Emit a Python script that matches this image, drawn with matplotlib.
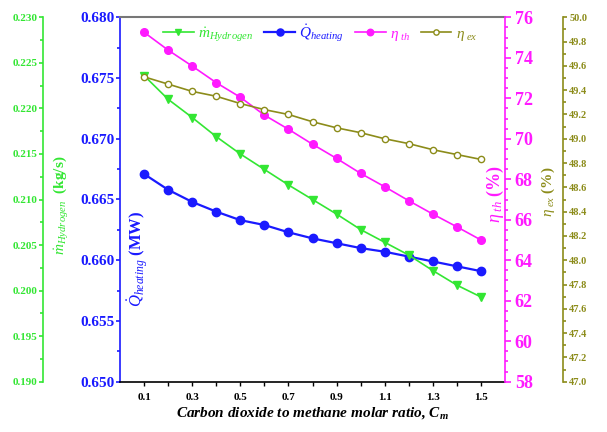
import matplotlib
matplotlib.use("Agg")
import matplotlib.pyplot as plt
from matplotlib.ticker import MultipleLocator, FixedLocator, FormatStrFormatter

plt.rcParams['font.family'] = ['Liberation Serif', 'DejaVu Serif']
plt.rcParams['mathtext.fontset'] = 'custom'
plt.rcParams['mathtext.rm'] = 'Liberation Serif'
plt.rcParams['mathtext.it'] = 'Liberation Serif:italic'
plt.rcParams['mathtext.bf'] = 'Liberation Serif:bold:italic'

# ---- data ----
cm_ratio = [0.1, 0.2, 0.3, 0.4, 0.5, 0.6, 0.7, 0.8, 0.9, 1.0, 1.1, 1.2, 1.3, 1.4, 1.5]
m_hydrogen = [0.2236, 0.2210, 0.2190, 0.2169, 0.2150, 0.2133, 0.2116, 0.2100,
              0.2084, 0.2067, 0.2053, 0.2039, 0.2022, 0.2006, 0.1993]
q_heating = [0.6671, 0.6658, 0.6648, 0.6640, 0.6633, 0.6629, 0.6623, 0.6618,
             0.6614, 0.6610, 0.6607, 0.6603, 0.6599, 0.6595, 0.6591]
eta_th = [75.26, 74.38, 73.59, 72.77, 72.05, 71.17, 70.47, 69.73,
          69.03, 68.29, 67.63, 66.94, 66.28, 65.65, 65.00]
eta_ex = [49.51, 49.45, 49.39, 49.35, 49.29, 49.24, 49.20, 49.14,
          49.09, 49.05, 49.00, 48.96, 48.91, 48.87, 48.83]
x_ticklabels = ['0.1', '0.3', '0.5', '0.7', '0.9', '1.1', '1.3', '1.5']

GREEN = '#33e633'
BLUE = '#1a1aff'
MAG = '#ff1aff'
OLIVE = '#8c8c1a'

fig = plt.figure(figsize=(6.07, 4.32), dpi=100)
ax = fig.add_axes([120/607, 1-381.7/432, 385/607, 364.4/432])

# blue (host)
lq, = ax.plot(cm_ratio, q_heating, '-o', color=BLUE, lw=1.6, ms=6, label=r'$\dot{Q}_{heating}$')
ax.set_xlim(0, 1.6)
ax.set_ylim(0.650, 0.680)
ax.yaxis.set_major_locator(MultipleLocator(0.005))
ax.yaxis.set_minor_locator(MultipleLocator(0.0025))
ax.yaxis.set_major_formatter(FormatStrFormatter('%.3f'))
ax.xaxis.set_major_locator(FixedLocator([0.1, 0.3, 0.5, 0.7, 0.9, 1.1, 1.3, 1.5]))
ax.xaxis.set_minor_locator(FixedLocator([0.2, 0.4, 0.6, 0.8, 1.0, 1.2, 1.4]))
ax.set_xticklabels(x_ticklabels)
ax.tick_params(axis='y', which='both', colors=BLUE, length=3, width=1.2, pad=1, labelsize=11)
ax.tick_params(axis='y', which='minor', length=2)
ax.tick_params(axis='x', which='both', colors='black', length=3, width=1, pad=5, labelsize=8)
for t in ax.get_yticklabels() + ax.get_xticklabels():
    t.set_fontweight('bold')
ax.spines['left'].set_color(BLUE)
ax.spines['left'].set_linewidth(1.2)
ax.spines['top'].set_color('#777777')
ax.spines['top'].set_linewidth(1.5)
ax.spines['bottom'].set_linewidth(1.2)
ax.spines['right'].set_visible(False)
ax.set_ylabel(r'$\dot{Q}_{heating}$ (MW)', color=BLUE, fontsize=12, fontweight='bold')
ax.yaxis.label.set_va('center')
ax.yaxis.set_label_coords(0.047, 0.338)
ax.set_xlabel(r'Carbon dioxide to methane molar ratio, $\mathbf{C_m}$', fontsize=11,
              fontweight='bold', fontstyle='italic')
ax.xaxis.label.set_va('center')
ax.xaxis.set_label_coords(0.501, -0.086)

# green (outer left)
axg = ax.twinx()
axg.spines['left'].set_position(('axes', -0.2))
axg.spines['left'].set_visible(True)
axg.spines['left'].set_color(GREEN)
axg.spines['left'].set_linewidth(1.2)
for s in ['right', 'top', 'bottom']:
    axg.spines[s].set_visible(False)
axg.yaxis.set_ticks_position('left')
axg.yaxis.set_label_position('left')
lm, = axg.plot(cm_ratio, m_hydrogen, '-v', color=GREEN, lw=1.2, ms=5.5, label=r'$\dot{m}_{Hydrogen}$')
axg.set_ylim(0.190, 0.230)
axg.yaxis.set_major_locator(MultipleLocator(0.005))
axg.yaxis.set_minor_locator(MultipleLocator(0.0025))
axg.yaxis.set_major_formatter(FormatStrFormatter('%.3f'))
axg.tick_params(axis='y', which='both', colors=GREEN, length=3, width=1.2, pad=1, labelsize=8)
axg.tick_params(axis='y', which='minor', length=2)
for t in axg.get_yticklabels():
    t.set_fontweight('bold')
axg.set_ylabel(r'$\dot{m}_{Hydrogen}$  (kg/s)', color=GREEN, fontsize=11, fontweight='bold')
axg.yaxis.label.set_va('center')
axg.yaxis.set_label_coords(-0.151, 0.485)

# magenta (inner right)
axm = ax.twinx()
for s in ['left', 'top', 'bottom']:
    axm.spines[s].set_visible(False)
axm.spines['right'].set_color(MAG)
axm.spines['right'].set_linewidth(1.2)
le_th, = axm.plot(cm_ratio, eta_th, '-o', color=MAG, lw=1.2, ms=5.5, label=r'$\eta_{\ th}$')
axm.set_ylim(58, 76)
axm.yaxis.set_major_locator(MultipleLocator(2))
axm.yaxis.set_minor_locator(MultipleLocator(0.5))
axm.tick_params(axis='y', which='both', colors=MAG, length=4, width=1.2, pad=3, labelsize=13)
axm.tick_params(axis='y', which='minor', length=2.5)
for t in axm.get_yticklabels():
    t.set_fontweight('bold')
axm.set_ylabel(r'$\eta_{\ th}$ (%)', color=MAG, fontsize=13, fontweight='bold')
axm.yaxis.label.set_va('center')
axm.yaxis.label.set_rotation(90)
axm.yaxis.set_label_coords(0.974, 0.515)

# olive (outer right)
axo = ax.twinx()
axo.spines['right'].set_position(('axes', 1.1506))
for s in ['left', 'top', 'bottom']:
    axo.spines[s].set_visible(False)
axo.spines['right'].set_color(OLIVE)
axo.spines['right'].set_linewidth(1.2)
le_ex, = axo.plot(cm_ratio, eta_ex, '-o', color=OLIVE, lw=1.2, ms=4.5,
                  markerfacecolor='white', markeredgecolor=OLIVE, label=r'$\eta_{\ ex}$')
axo.set_ylim(47.0, 50.0)
axo.yaxis.set_major_locator(MultipleLocator(0.2))
axo.yaxis.set_minor_locator(MultipleLocator(0.1))
axo.yaxis.set_major_formatter(FormatStrFormatter('%.1f'))
axo.tick_params(axis='y', which='both', colors=OLIVE, length=3, width=1.2, pad=1.5, labelsize=7.5)
axo.tick_params(axis='y', which='minor', length=2)
for t in axo.get_yticklabels():
    t.set_fontweight('bold')
axo.set_ylabel(r'$\eta_{\ ex}$ (%)', color=OLIVE, fontsize=11, fontweight='bold')
axo.yaxis.label.set_va('center')
axo.yaxis.label.set_rotation(90)
axo.yaxis.set_label_coords(1.112, 0.522)

leg = fig.legend(handles=[lm, lq, le_th, le_ex], loc='center left',
                 bbox_to_anchor=(157/607, 1-33/432), ncol=4, frameon=False,
                 fontsize=11, handlelength=2.0, handletextpad=0.3, columnspacing=0.7,
                 borderaxespad=0, markerscale=0.85)
for txt, c in zip(leg.get_texts(), [GREEN, BLUE, MAG, OLIVE]):
    txt.set_color(c)

fig.savefig('out.png', dpi=100)
